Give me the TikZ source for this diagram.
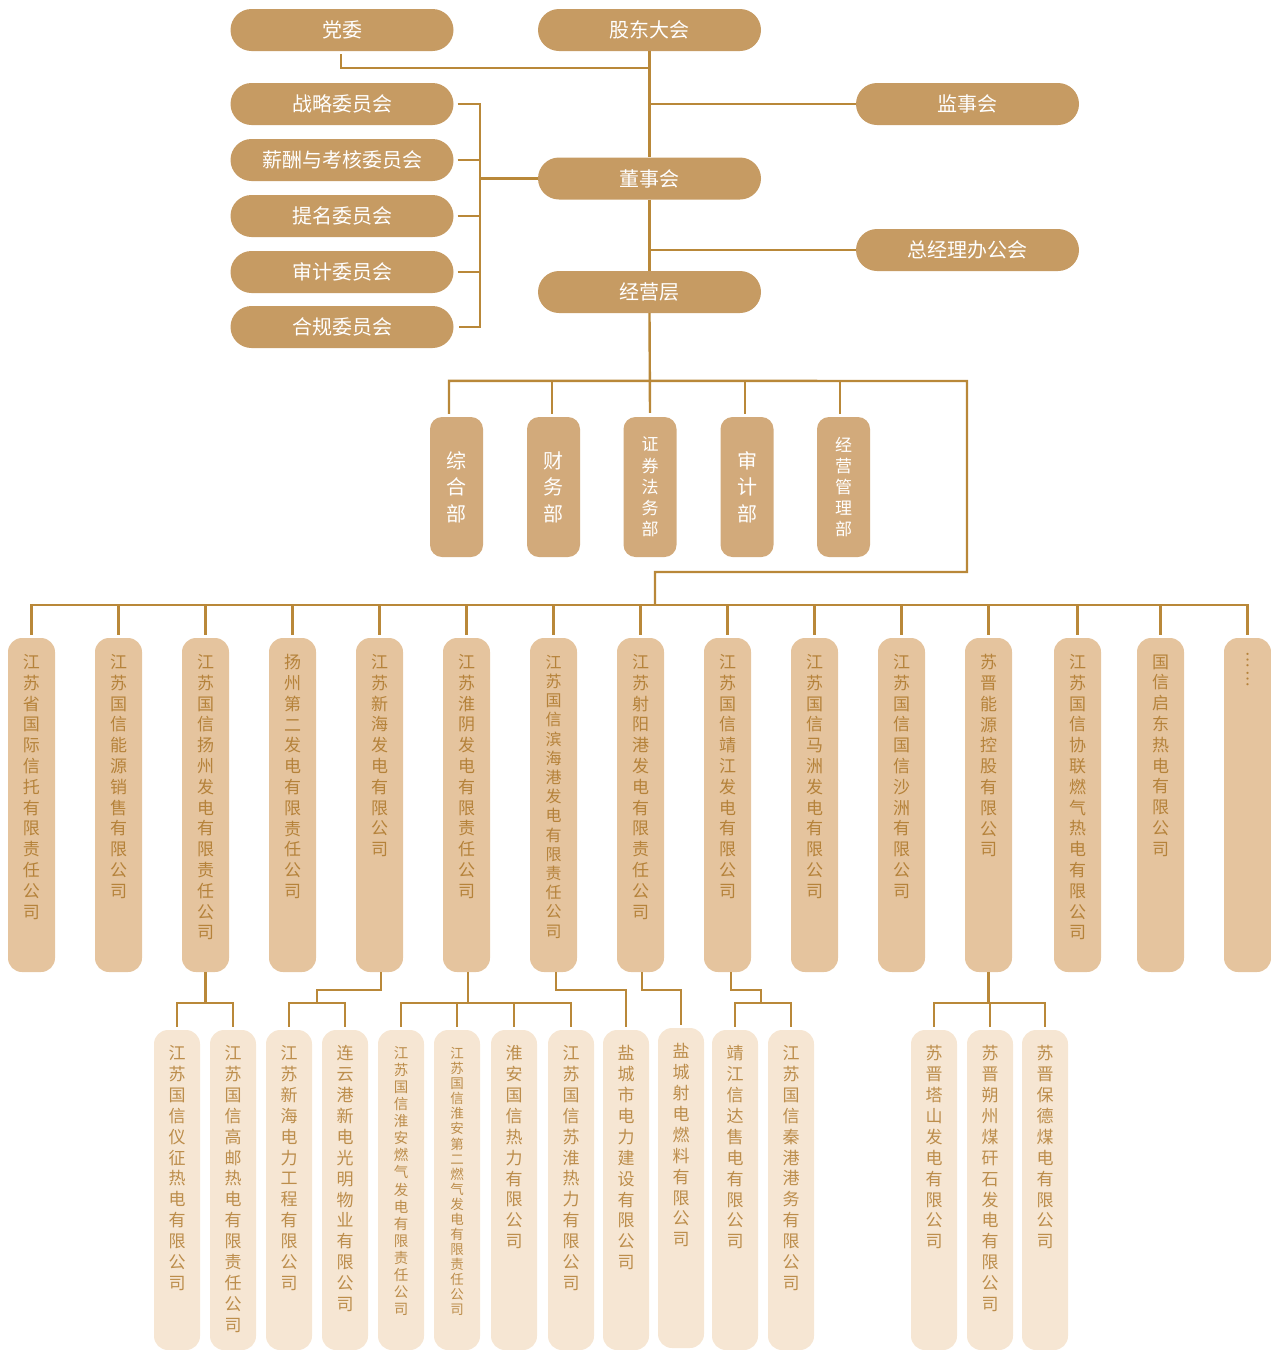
\documentclass[tikz,border=0pt]{standalone}
\usepackage{fontspec}
\newfontfamily\cjk{Noto Sans CJK SC}
\XeTeXlinebreaklocale "zh"
\XeTeXlinebreakskip=0pt plus 1pt
\definecolor{topfill}{HTML}{C69B63}
\definecolor{deptfill}{HTML}{D2AA7B}
\definecolor{onefill}{HTML}{E5C49E}
\definecolor{twofill}{HTML}{F6E6D3}
\definecolor{linec}{HTML}{B98839}
\definecolor{onetext}{HTML}{B5823A}
\definecolor{twotext}{HTML}{BC8D4B}
\begin{document}
\begin{tikzpicture}[x=1pt,y=-1pt,
  conn/.style={draw=linec, line width=2.4pt},
  topbox/.style={fill=topfill, rounded corners=21pt, minimum width=223pt, minimum height=42pt, inner sep=0pt, text=white, font=\cjk\fontsize{20}{24}\selectfont},
  deptbox/.style={fill=deptfill, rounded corners=12pt, minimum width=53pt, minimum height=140pt, inner sep=0pt, text=white, align=center},
  dbig/.style={text width=21pt, font=\cjk\fontsize{20}{26.5}\selectfont},
  dsmall/.style={text width=18pt, font=\cjk\fontsize{17}{21.2}\selectfont},
  onebox/.style={fill=onefill, rounded corners=14pt, minimum width=47pt, minimum height=334pt, inner sep=0pt},
  twobox/.style={fill=twofill, rounded corners=14pt, minimum width=46pt, minimum height=320pt, inner sep=0pt},
  vone/.style={anchor=north, inner sep=0pt, align=center, text width=18pt, text=onetext, font=\cjk\fontsize{17}{20.8}\selectfont},
  vtwo/.style={anchor=north, inner sep=0pt, align=center, text width=18pt, text=twotext, font=\cjk\fontsize{17}{20.9}\selectfont}
]
\useasboundingbox (0,0) rectangle (1271,1350);
% top level
\node[topbox] (dw) at (342,30) {党委};
\node[topbox] (gd) at (649.5,30) {股东大会};
\node[topbox] (zl) at (342,104) {战略委员会};
\node[topbox] (xc) at (342,160) {薪酬与考核委员会};
\node[topbox] (tm) at (342,216) {提名委员会};
\node[topbox] (sj) at (342,272) {审计委员会};
\node[topbox] (hg) at (342,327) {合规委员会};
\node[topbox] (dsh) at (649.5,178.5) {董事会};
\node[topbox] (jyc) at (649.5,292) {经营层};
\node[topbox] (jsh) at (967.5,104) {监事会};
\node[topbox] (zjl) at (967.5,250) {总经理办公会};
% departments
\node[deptbox,dbig] (d1) at (456.5,487) {综合部};
\node[deptbox,dbig] (d2) at (553.5,487) {财务部};
\node[deptbox,dsmall] (d3) at (650,487) {证券法务部};
\node[deptbox,dbig] (d4) at (747,487) {审计部};
\node[deptbox,dsmall] (d5) at (843.5,487) {经营管理部};
% first row of companies
\node[onebox] (s1) at (31.5,805) {};
\node[onebox] (s2) at (118.5,805) {};
\node[onebox] (s3) at (205.5,805) {};
\node[onebox] (s4) at (292.5,805) {};
\node[onebox] (s5) at (379.5,805) {};
\node[onebox] (s6) at (466.5,805) {};
\node[onebox] (s7) at (553.5,805) {};
\node[onebox] (s8) at (640.5,805) {};
\node[onebox] (s9) at (727.5,805) {};
\node[onebox] (s10) at (814.5,805) {};
\node[onebox] (s11) at (901.5,805) {};
\node[onebox] (s12) at (988.5,805) {};
\node[onebox] (s13) at (1077.5,805) {};
\node[onebox] (s14) at (1160.5,805) {};
\node[onebox] (s15) at (1247.5,805) {};
\node[vone] (s1t) at ([yshift=-16.5pt]s1.north) {江苏省国际信托有限责任公司};
\node[vone] (s2t) at ([yshift=-16.5pt]s2.north) {江苏国信能源销售有限公司};
\node[vone] (s3t) at ([yshift=-16.5pt]s3.north) {江苏国信扬州发电有限责任公司};
\node[vone] (s4t) at ([yshift=-16.5pt]s4.north) {扬州第二发电有限责任公司};
\node[vone] (s5t) at ([yshift=-16.5pt]s5.north) {江苏新海发电有限公司};
\node[vone] (s6t) at ([yshift=-16.5pt]s6.north) {江苏淮阴发电有限责任公司};
\node[vone,text width=17pt,font=\cjk\fontsize{16}{19.2}\selectfont] (s7t) at ([yshift=-17pt]s7.north) {江苏国信滨海港发电有限责任公司};
\node[vone] (s8t) at ([yshift=-16.5pt]s8.north) {江苏射阳港发电有限责任公司};
\node[vone] (s9t) at ([yshift=-16.5pt]s9.north) {江苏国信靖江发电有限公司};
\node[vone] (s10t) at ([yshift=-16.5pt]s10.north) {江苏国信马洲发电有限公司};
\node[vone] (s11t) at ([yshift=-16.5pt]s11.north) {江苏国信国信沙洲有限公司};
\node[vone] (s12t) at ([yshift=-16.5pt]s12.north) {苏晋能源控股有限公司};
\node[vone] (s13t) at ([yshift=-16.5pt]s13.north) {江苏国信协联燃气热电有限公司};
\node[vone] (s14t) at ([yshift=-16.5pt]s14.north) {国信启东热电有限公司};
\node[vone,font=\cjk\fontsize{17}{19}\selectfont] (s15t) at ([yshift=-15pt]s15.north) {︙\\︙};
% second row of companies
\node[twobox] (t1) at (177,1190) {};
\node[twobox] (t2) at (233,1190) {};
\node[twobox] (t3) at (289,1190) {};
\node[twobox] (t4) at (345,1190) {};
\node[twobox] (t5) at (401,1190) {};
\node[twobox] (t6) at (457,1190) {};
\node[twobox] (t7) at (514,1190) {};
\node[twobox] (t8) at (571,1190) {};
\node[twobox] (t9) at (626,1190) {};
\node[twobox] (t10) at (681,1188) {};
\node[twobox] (t11) at (735,1190) {};
\node[twobox] (t12) at (791,1190) {};
\node[twobox] (t13) at (934,1190) {};
\node[twobox] (t14) at (990,1190) {};
\node[twobox] (t15) at (1045,1190) {};
\node[vtwo] (t1t) at ([yshift=-15.5pt]t1.north) {江苏国信仪征热电有限公司};
\node[vtwo] (t2t) at ([yshift=-15.5pt]t2.north) {江苏国信高邮热电有限责任公司};
\node[vtwo] (t3t) at ([yshift=-15.5pt]t3.north) {江苏新海电力工程有限公司};
\node[vtwo] (t4t) at ([yshift=-15.5pt]t4.north) {连云港新电光明物业有限公司};
\node[vtwo,text width=15pt,font=\cjk\fontsize{14.5}{17.07}\selectfont] (t5t) at ([yshift=-16.5pt]t5.north) {江苏国信淮安燃气发电有限责任公司};
\node[vtwo,text width=14pt,font=\cjk\fontsize{13.5}{15.06}\selectfont] (t6t) at ([yshift=-17.5pt]t6.north) {江苏国信淮安第二燃气发电有限责任公司};
\node[vtwo] (t7t) at ([yshift=-15.5pt]t7.north) {淮安国信热力有限公司};
\node[vtwo] (t8t) at ([yshift=-15.5pt]t8.north) {江苏国信苏淮热力有限公司};
\node[vtwo] (t9t) at ([yshift=-15.5pt]t9.north) {盐城市电力建设有限公司};
\node[vtwo] (t10t) at ([yshift=-15.5pt]t10.north) {盐城射电燃料有限公司};
\node[vtwo] (t11t) at ([yshift=-15.5pt]t11.north) {靖江信达售电有限公司};
\node[vtwo] (t12t) at ([yshift=-15.5pt]t12.north) {江苏国信秦港港务有限公司};
\node[vtwo] (t13t) at ([yshift=-15.5pt]t13.north) {苏晋塔山发电有限公司};
\node[vtwo] (t14t) at ([yshift=-15.5pt]t14.north) {苏晋朔州煤矸石发电有限公司};
\node[vtwo] (t15t) at ([yshift=-15.5pt]t15.north) {苏晋保德煤电有限公司};
% connectors: top
\coordinate (cb) at (480,178.5);
\coordinate (dR) at (967,381);
\coordinate (k1) at (967,572);
\coordinate (k2) at (655,572);
\coordinate (bar) at (655,605);
\draw[conn] ([xshift=-1pt,yshift=-3pt]dw.south) -- ++(0,14) -| (gd.south);
\draw[conn] (gd.south) -- (dsh.north);
\draw[conn] (dsh.south) -- (jyc.north);
\draw[conn] (jyc.south) -- ([yshift=4pt]d3.north);
\draw[conn] (jsh.west) -- (jsh.west -| gd.south);
\draw[conn] (zjl.west) -- (zjl.west -| gd.south);
\draw[conn] ([xshift=4pt]zl.east) -- (zl.east -| cb) -- (hg.east -| cb) -- ([xshift=5pt]hg.east);
\draw[conn] ([xshift=4pt]xc.east) -- (xc.east -| cb);
\draw[conn] ([xshift=4pt]tm.east) -- (tm.east -| cb);
\draw[conn] ([xshift=4pt]sj.east) -- (sj.east -| cb);
\draw[conn] (cb) -- (dsh.west);
% departments
\draw[conn] ([xshift=-7.5pt,yshift=3pt]d1.north) -- ++(0,-33) -- (dR) -- (k1) -- (k2) -- (bar);
\draw[conn] ([xshift=-1.5pt,yshift=3pt]d2.north) -- ++(0,-33);
\draw[conn] ([xshift=-2pt,yshift=3pt]d4.north) -- ++(0,-33);
\draw[conn] ([xshift=-3.5pt,yshift=3pt]d5.north) -- ++(0,-33);
% first row
\draw[conn] ([yshift=3pt]s1.north) |- (bar) -| ([yshift=3pt]s15.north);
\foreach \s in {s2,s3,s4,s5,s6,s7,s8,s9,s10,s11,s12,s13,s14}
  \draw[conn] ([yshift=3pt]\s.north) -- (\s.north |- bar);
% second row
\draw[conn] (s3.south) -- ++(0,31) coordinate (j3);
\draw[conn] ([yshift=3pt]t1.north) |- (j3) -| ([yshift=3pt]t2.north);
\coordinate (j5a) at (381,990);
\coordinate (j5b) at (317,1003);
\draw[conn] ([xshift=1.5pt]s5.south) -- (j5a) -| (j5b);
\draw[conn] ([yshift=3pt]t3.north) |- (j5b) -| ([yshift=3pt]t4.north);
\coordinate (j6) at (468,1003);
\draw[conn] ([xshift=1.5pt]s6.south) -- (j6);
\draw[conn] ([yshift=3pt]t5.north) |- (j6) -| ([yshift=3pt]t8.north);
\draw[conn] ([yshift=3pt]t6.north) -- (t6.north |- j6);
\draw[conn] ([yshift=3pt]t7.north) -- (t7.north |- j6);
\draw[conn] ([xshift=2.5pt]s7.south) -- ++(0,18) -| ([yshift=3pt]t9.north);
\draw[conn] ([xshift=1.5pt]s8.south) -- ++(0,18) -| ([yshift=3pt]t10.north);
\coordinate (j9) at (761,1003);
\draw[conn] ([xshift=3.5pt]s9.south) -- ++(0,18) -| (j9);
\draw[conn] ([yshift=3pt]t11.north) |- (j9) -| ([yshift=3pt]t12.north);
\draw[conn] (s12.south) -- ++(0,31) coordinate (j12);
\draw[conn] ([yshift=3pt]t13.north) |- (j12) -| ([yshift=3pt]t15.north);
\draw[conn] ([yshift=3pt]t14.north) -- (t14.north |- j12);
\end{tikzpicture}
\end{document}
